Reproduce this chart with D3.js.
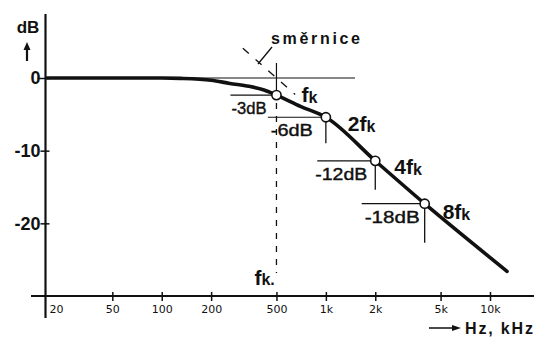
<!DOCTYPE html>
<html>
<head>
<meta charset="utf-8">
<script src="https://cdn.jsdelivr.net/npm/d3@7"></script>
<style>
  body { margin: 0; background: #fff; }
  svg { display: block; font-family: "DejaVu Sans", sans-serif; }
</style>
</head>
<body>
<svg width="534" height="340"></svg>
<script>
// frequency response curve (Hz, dB)
const curveFreq = [20, 100, 130, 200, 260, 340, 420, 500, 700, 1000, 2000, 4000, 12700];
const curveDb = [0, 0, -0.05, -0.3, -0.75, -1.15, -1.65, -2.35, -3.9, -5.4, -11.4, -17.3, -26.6];

// marked points fk, 2fk, 4fk, 8fk
const markFreq = [500, 1000, 2000, 4000];
const markDb = [-2.35, -5.4, -11.4, -17.3];
const markPrefix = ["", "2", "4", "8"];
const refLabels = ["-3dB", "-6dB", "-12dB", "-18dB"];

const xTicks = [20, 50, 100, 200, 500, 1000, 2000, 5000, 10000];
const xTickLabels = ["20", "50", "100", "200", "500", "1k", "2k", "5k", "10k"];
const yTicks = [0, -10, -20];

const svg = d3.select("svg");

const x = d3.scaleLog().domain([20, 10000]).range([47, 490]);
const y = d3.scaleLinear().domain([0, -30]).range([78, 296]);

const ink = "#111";

// axes lines (extended past the ticks like in the drawing)
svg.append("line")
    .attr("x1", 31).attr("x2", 534)
    .attr("y1", y(-30)).attr("y2", y(-30))
    .attr("stroke", ink).attr("stroke-width", 2);
svg.append("line")
    .attr("x1", 45.5).attr("x2", 45.5)
    .attr("y1", 14).attr("y2", 318)
    .attr("stroke", ink).attr("stroke-width", 2.2);

// x axis ticks and labels
const xAxis = d3.axisBottom(x)
    .tickValues(xTicks)
    .tickFormat((d, i) => xTickLabels[i])
    .tickSize(0);
const gx = svg.append("g")
    .attr("transform", `translate(0,${y(-30)})`)
    .call(xAxis);
gx.select(".domain").remove();
gx.selectAll(".tick line")
    .attr("y1", -4).attr("y2", 5)
    .attr("stroke", ink).attr("stroke-width", 1.5);
gx.selectAll(".tick text")
    .attr("y", 9)
    .attr("font-size", 11)
    .attr("font-family", "DejaVu Sans")
    .attr("fill", ink)
    .attr("dx", d => d === 20 ? 9 : 0);
gx.selectAll(".tick").filter(d => d === 20).select("line").remove();

// y axis ticks and labels
const yAxis = d3.axisLeft(y)
    .tickValues(yTicks)
    .tickFormat(d => d)
    .tickSize(0);
const gy = svg.append("g")
    .attr("transform", "translate(45.5,0)")
    .call(yAxis);
gy.select(".domain").remove();
gy.selectAll(".tick line")
    .attr("x1", d => d === 0 ? -8 : -5).attr("x2", 4)
    .attr("stroke", ink).attr("stroke-width", 1.5);
gy.selectAll(".tick text")
    .attr("x", -5)
    .attr("font-size", 18)
    .attr("font-weight", "bold")
    .attr("font-family", "Liberation Sans")
    .attr("fill", ink);

// dB label with arrow
svg.append("text")
    .attr("x", 28).attr("y", 33)
    .attr("text-anchor", "middle")
    .attr("font-size", 17).attr("font-weight", "bold")
    .attr("font-family", "Liberation Sans")
    .attr("fill", ink)
    .text("dB");
svg.append("line")
    .attr("x1", 27).attr("x2", 27).attr("y1", 61).attr("y2", 49)
    .attr("stroke", ink).attr("stroke-width", 2.2);
svg.append("path")
    .attr("d", "M23.5,50 L27,42 L30.5,50 Z")
    .attr("fill", ink);

// Hz, kHz label with arrow
svg.append("line")
    .attr("x1", 429).attr("x2", 454).attr("y1", 328).attr("y2", 328)
    .attr("stroke", ink).attr("stroke-width", 1.5);
svg.append("path")
    .attr("d", "M452,325 L461,328 L452,331 Z")
    .attr("fill", ink);
svg.append("text")
    .attr("x", 465).attr("y", 334)
    .attr("font-size", 16).attr("font-weight", "bold")
    .attr("font-family", "Liberation Sans")
    .attr("fill", ink)
    .attr("textLength", 68)
    .text("Hz, kHz");

// 0 dB asymptote (thin)
svg.append("line")
    .attr("x1", x(150)).attr("x2", 355)
    .attr("y1", y(0)).attr("y2", y(0))
    .attr("stroke", ink).attr("stroke-width", 1.2);

// slope asymptote -6 dB/oct through fk (dashed)
const fk = markFreq[0];
const asym = f => -20 * Math.log10(f / fk);
svg.append("line")
    .attr("x1", x(312)).attr("y1", y(asym(312)))
    .attr("x2", x(650)).attr("y2", y(asym(650)))
    .attr("stroke", ink).attr("stroke-width", 1.3)
    .attr("stroke-dasharray", "8,9");

// "směrnice" label with leader
svg.append("line")
    .attr("x1", 272).attr("y1", 47).attr("x2", 258).attr("y2", 64)
    .attr("stroke", ink).attr("stroke-width", 1.3);
svg.append("text")
    .attr("x", 271).attr("y", 44)
    .attr("font-size", 16).attr("font-weight", "bold")
    .attr("font-family", "Liberation Sans")
    .attr("fill", ink)
    .attr("textLength", 89)
    .text("směrnice");

// vertical line at fk: solid above the point, dashed below
svg.append("line")
    .attr("x1", x(fk)).attr("x2", x(fk))
    .attr("y1", 63).attr("y2", y(markDb[0]))
    .attr("stroke", ink).attr("stroke-width", 1.2);
svg.append("line")
    .attr("x1", x(fk)).attr("x2", x(fk))
    .attr("y1", y(markDb[0]) + 8).attr("y2", 273)
    .attr("stroke", ink).attr("stroke-width", 1.3)
    .attr("stroke-dasharray", "6,7");
const fkLab = svg.append("text")
    .attr("x", x(fk) - 22).attr("y", 285)
    .attr("font-size", 21).attr("font-weight", "bold")
    .attr("font-family", "Liberation Sans")
    .attr("fill", ink);
fkLab.append("tspan").text("f");
fkLab.append("tspan").attr("font-size", 16).text("k.");

// reference lines and dB labels
const refGap = [10, 13, 8, 5];
const refLen = [46, 58, 58, 63];
const refWidth = [35, 42, 52, 55];
const tickLen = [0, 26, 29, 39];
markFreq.forEach((f, i) => {
    const cx = x(f), cy = y(markDb[i]);
    svg.append("line")
        .attr("x1", cx - refLen[i]).attr("x2", cx)
        .attr("y1", cy).attr("y2", cy)
        .attr("stroke", ink).attr("stroke-width", 1.2);
    svg.append("text")
        .attr("x", cx - refGap[i] - refWidth[i]).attr("y", cy + 19)
        .attr("font-size", 16.5)
        .attr("font-family", "Liberation Sans")
        .attr("fill", ink)
        .attr("stroke", ink).attr("stroke-width", 0.4)
        .attr("textLength", refWidth[i])
        .attr("lengthAdjust", "spacingAndGlyphs")
        .text(refLabels[i]);
    if (tickLen[i] > 0) {
        svg.append("line")
            .attr("x1", cx).attr("x2", cx)
            .attr("y1", cy + 4).attr("y2", cy + tickLen[i])
            .attr("stroke", ink).attr("stroke-width", 1.3);
    }
});

// the response curve
const line = d3.line()
    .x(d => x(d[0]))
    .y(d => y(d[1]))
    .curve(d3.curveMonotoneX);
svg.append("path")
    .datum(d3.zip(curveFreq, curveDb))
    .attr("d", line)
    .attr("fill", "none")
    .attr("stroke", ink)
    .attr("stroke-width", 3.6)
    .attr("stroke-linecap", "round");

// point markers
svg.selectAll("circle.mark")
    .data(markFreq)
    .join("circle")
    .attr("class", "mark")
    .attr("cx", d => x(d))
    .attr("cy", (d, i) => y(markDb[i]))
    .attr("r", 4.6)
    .attr("fill", "#fff")
    .attr("stroke", ink)
    .attr("stroke-width", 1.6);

// fk, 2fk, 4fk, 8fk labels
const labDx = [25, 22, 19, 18];
const labDy = [7, 14, 13, 15];
markFreq.forEach((f, i) => {
    const t = svg.append("text")
        .attr("x", x(f) + labDx[i]).attr("y", y(markDb[i]) + labDy[i])
        .attr("font-size", 21).attr("font-weight", "bold")
        .attr("font-family", "Liberation Sans")
        .attr("fill", ink);
    t.append("tspan").text(markPrefix[i] + "f");
    t.append("tspan").attr("font-size", 16).attr("dy", 1).text("k");
});
</script>
</body>
</html>
